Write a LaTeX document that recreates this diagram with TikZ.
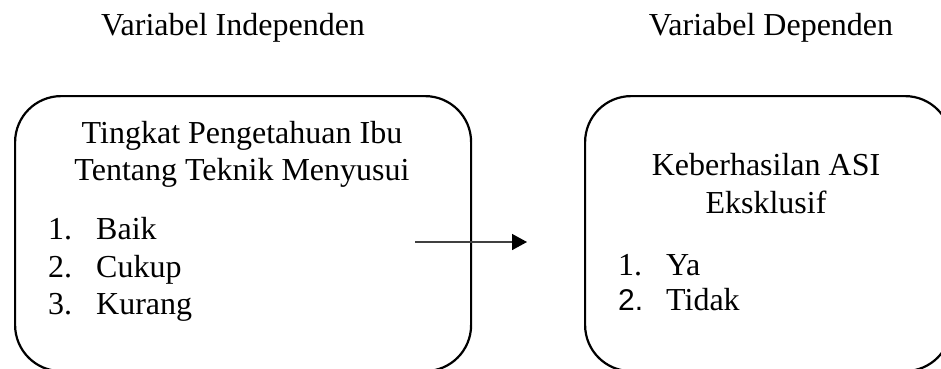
\documentclass[tikz,border=0pt]{standalone}
\usepackage{fontspec}
\setmainfont{Liberation Serif}
\newfontfamily\numsans{Liberation Sans}
\usetikzlibrary{arrows.meta}
\begin{document}
\begin{tikzpicture}[x=1pt,y=-1pt,
  lbl/.style={inner sep=0pt, font=\fontsize{32}{38}\selectfont},
  panel/.style={draw=black, line width=2.2pt, rounded corners=46pt,
    inner sep=0pt, anchor=north west},
  flow/.style={draw=black!75, line width=1.5pt,
    -{Triangle[length=15pt,width=16pt,color=black]}}]
\useasboundingbox (0,0) rectangle (941,368);
\clip (0,0) rectangle (941,368);

% column headings
\node[lbl, anchor=base] (hInd) at (233,35) {Variabel Independen};
\node[lbl, anchor=base] (hDep) at (771,35) {Variabel Dependen};

% the two variable panels (their lower edges run just past the page)
\node[panel, minimum width=456pt, minimum height=275pt] (indep) at (14,95) {};
\node[panel, minimum width=366pt, minimum height=275pt] (dep) at (584,95) {};

% independent variable
\node[lbl, anchor=base] (iT1) at (242,143) {Tingkat Pengetahuan Ibu};
\node[lbl, anchor=base] (iT2) at (242,180) {Tentang Teknik Menyusui};
\node[lbl, anchor=base west] (iN1) at (48,239) {1.};
\node[lbl, anchor=base west] (iL1) at (96,239) {Baik};
\node[lbl, anchor=base west] (iN2) at (48,277) {2.};
\node[lbl, anchor=base west] (iL2) at (96,277) {Cukup};
\node[lbl, anchor=base west] (iN3) at (48,314) {3.};
\node[lbl, anchor=base west] (iL3) at (96,314) {Kurang};

% dependent variable
\node[lbl, anchor=base] (dT1) at (766,175) {Keberhasilan ASI};
\node[lbl, anchor=base] (dT2) at (766,213) {Eksklusif};
\node[lbl, anchor=base west] (dN1) at (618,275) {1.};
\node[lbl, anchor=base west] (dL1) at (666,275) {Ya};
\node[lbl, anchor=base west, font=\fontsize{30}{36}\selectfont\numsans] (dN2) at (618,310) {2.};
\node[lbl, anchor=base west] (dL2) at (666,310) {Tidak};

% influence arrow
\coordinate (aStart) at (415,242);
\coordinate (aEnd) at (527,242);
\draw[flow] (aStart) -- (aEnd);
\end{tikzpicture}
\end{document}
